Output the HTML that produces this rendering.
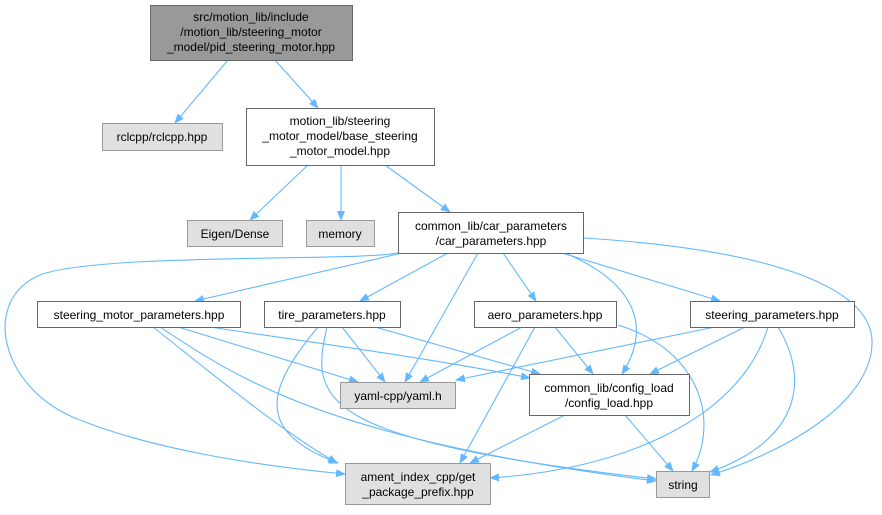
<!DOCTYPE html>
<html><head><meta charset="utf-8"><style>
body{margin:0;background:#fff;}
svg text{font-family:"Liberation Sans",Helvetica,Arial,sans-serif;font-size:12px;fill:#000;}
</style></head><body>
<svg width="882" height="510" viewBox="0 0 882 510" xmlns="http://www.w3.org/2000/svg">
<defs><marker id="a" markerWidth="10" markerHeight="8" refX="9" refY="4" orient="auto" markerUnits="userSpaceOnUse"><path d="M0,0 L10,4 L0,8 Z" fill="#63b8ff"/></marker></defs>
<g fill="none" stroke="#63b8ff" stroke-width="1.1" marker-end="url(#a)">
<path d="M228,60 L175,123"/>
<path d="M275,60 L318,108"/>
<path d="M308,165 L250,220"/>
<path d="M341,165 L341,220"/>
<path d="M385,165 L450,212"/>
<path d="M402,253 L195,301"/>
<path d="M448,253 L360,301"/>
<path d="M503,253 L536,301"/>
<path d="M562,253 L720,301"/>
<path d="M478,253 L405,382"/>
<path d="M565,253 C640,285 650,330 622,374"/>
<path d="M400,252 C380,262 100,252 40,275 C-20,300 0,390 80,420 C150,448 250,465 345,474"/>
<path d="M583,238 C780,250 870,290 872,340 C874,400 790,450 711,475"/>
<path d="M178,327 L358,382"/>
<path d="M210,327 C330,345 440,360 530,378"/>
<path d="M153,327 C220,380 280,430 337,463"/>
<path d="M160,327 C240,380 330,440 656,481"/>
<path d="M342,327 L385,382"/>
<path d="M375,327 L540,374"/>
<path d="M318,327 C270,385 250,430 338,463"/>
<path d="M327,327 C310,400 315,440 656,479"/>
<path d="M522,327 L420,382"/>
<path d="M555,327 L593,374"/>
<path d="M535,327 L460,463"/>
<path d="M618,325 C700,350 720,420 692,471"/>
<path d="M715,327 L456,380"/>
<path d="M745,327 L650,374"/>
<path d="M768,327 C740,420 620,470 490,478"/>
<path d="M778,327 C810,380 800,440 710,472"/>
<path d="M565,415 L470,463"/>
<path d="M625,415 L673,471"/>
</g>
<g stroke-width="1">
<rect x="150.5" y="5.5" width="202" height="55" fill="#999" stroke="#666"/>
<rect x="102.5" y="123.5" width="120" height="27" fill="#e0e0e0" stroke="#999"/>
<rect x="246.5" y="108.5" width="188" height="57" fill="#fff" stroke="#666"/>
<rect x="187.5" y="220.5" width="95" height="26" fill="#e0e0e0" stroke="#999"/>
<rect x="306.5" y="220.5" width="68" height="26" fill="#e0e0e0" stroke="#999"/>
<rect x="398.5" y="212.5" width="185" height="41" fill="#fff" stroke="#666"/>
<rect x="37.5" y="301.5" width="203" height="26" fill="#fff" stroke="#666"/>
<rect x="264.5" y="301.5" width="136" height="26" fill="#fff" stroke="#666"/>
<rect x="474.5" y="301.5" width="142" height="26" fill="#fff" stroke="#666"/>
<rect x="690.5" y="301.5" width="164" height="26" fill="#fff" stroke="#666"/>
<rect x="340.5" y="382.5" width="115" height="26" fill="#e0e0e0" stroke="#999"/>
<rect x="529.5" y="374.5" width="160" height="41" fill="#fff" stroke="#666"/>
<rect x="345.5" y="463.5" width="145" height="41" fill="#e0e0e0" stroke="#999"/>
<rect x="656.5" y="471.5" width="53" height="26" fill="#e0e0e0" stroke="#999"/>
</g>
<g text-anchor="middle">
<text x="251" y="21">src/motion_lib/include</text>
<text x="251" y="36">/motion_lib/steering_motor</text>
<text x="251" y="51">_model/pid_steering_motor.hpp</text>
<text x="162" y="141">rclcpp/rclcpp.hpp</text>
<text x="340" y="125">motion_lib/steering</text>
<text x="340" y="140">_motor_model/base_steering</text>
<text x="340" y="155">_motor_model.hpp</text>
<text x="235" y="238">Eigen/Dense</text>
<text x="340" y="238">memory</text>
<text x="491" y="230">common_lib/car_parameters</text>
<text x="491" y="245">/car_parameters.hpp</text>
<text x="139" y="319">steering_motor_parameters.hpp</text>
<text x="332" y="319">tire_parameters.hpp</text>
<text x="545" y="319">aero_parameters.hpp</text>
<text x="772" y="319">steering_parameters.hpp</text>
<text x="398" y="400">yaml-cpp/yaml.h</text>
<text x="609" y="392">common_lib/config_load</text>
<text x="609" y="407">/config_load.hpp</text>
<text x="418" y="481">ament_index_cpp/get</text>
<text x="418" y="496">_package_prefix.hpp</text>
<text x="683" y="489">string</text>
</g>
</svg>
</body></html>
